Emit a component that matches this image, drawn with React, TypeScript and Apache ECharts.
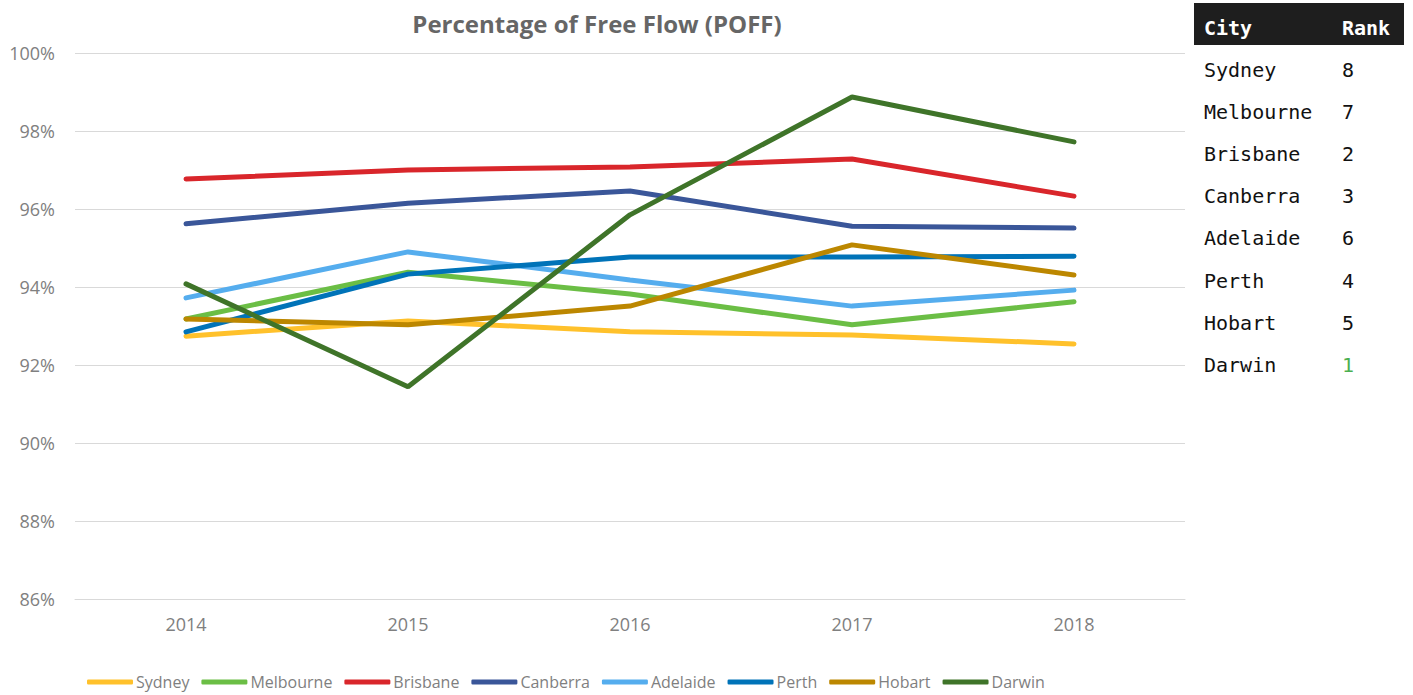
import React, { useEffect, useRef } from "react";
import * as echarts from "echarts";

const years = ["2014", "2015", "2016", "2017", "2018"];
const sydney = [92.74, 93.13, 92.85, 92.77, 92.54];
const melbourne = [93.18, 94.38, 93.82, 93.03, 93.62];
const brisbane = [96.77, 97.0, 97.08, 97.28, 96.33];
const canberra = [95.62, 96.15, 96.46, 95.56, 95.51];
const adelaide = [93.72, 94.9, 94.18, 93.51, 93.92];
const perth = [92.85, 94.33, 94.77, 94.77, 94.79];
const hobart = [93.18, 93.03, 93.51, 95.08, 94.31];
const darwin = [94.08, 91.44, 95.85, 98.87, 97.72];

const seriesNames = ["Sydney", "Melbourne", "Brisbane", "Canberra", "Adelaide", "Perth", "Hobart", "Darwin"];
const seriesValues = [sydney, melbourne, brisbane, canberra, adelaide, perth, hobart, darwin];
const seriesColors = ["#FFC12B", "#6BBE45", "#D9262B", "#3A5699", "#55ADEE", "#0073B8", "#BC8700", "#3F7429"];

const tableCities = ["Sydney", "Melbourne", "Brisbane", "Canberra", "Adelaide", "Perth", "Hobart", "Darwin"];
const tableRanks = ["8", "7", "2", "3", "6", "4", "5", "1"];

export default function App() {
  const ref = useRef<HTMLDivElement>(null);
  useEffect(() => {
    if (!ref.current) return;
    const chart = echarts.init(ref.current, null, { renderer: "svg" });
    const mono = "'DejaVu Sans Mono', 'Liberation Mono', monospace";
    const sans = "'Open Sans', 'Noto Sans', sans-serif";
    const graphic: any[] = [
      { type: "rect", shape: { x: 1194, y: 3, width: 210, height: 42 }, style: { fill: "#1e1e1e" } },
      { type: "text", x: 1204, y: 28, style: { text: "City", fill: "#fff", font: `bold 20px ${mono}`, textVerticalAlign: "middle" } },
      { type: "text", x: 1342, y: 28, style: { text: "Rank", fill: "#fff", font: `bold 20px ${mono}`, textVerticalAlign: "middle" } },
    ];
    tableCities.forEach((c, i) => {
      const y = 70 + i * 42.1;
      graphic.push({ type: "text", x: 1204, y, style: { text: c, fill: "#111", font: `20px ${mono}`, textVerticalAlign: "middle" } });
      graphic.push({
        type: "text",
        x: 1342,
        y,
        style: { text: tableRanks[i], fill: tableRanks[i] === "1" ? "#4CAF50" : "#111", font: `20px ${mono}`, textVerticalAlign: "middle" },
      });
    });
    chart.setOption({
      animation: false,
      textStyle: { fontFamily: sans },
      title: {
        text: "Percentage of Free Flow (POFF)",
        left: 592,
        textAlign: "center",
        top: 6,
        textStyle: { fontSize: 24, fontWeight: "bold", color: "#666", fontFamily: sans },
      },
      grid: { left: 75, right: 228, top: 53, bottom: 96 },
      legend: {
        bottom: 0,
        left: 82,
        icon: "roundRect",
        itemWidth: 46,
        itemHeight: 5,
        itemGap: 12,
        textStyle: { color: "#7f7f7f", fontSize: 16, padding: [0, 0, 0, -2] },
        data: seriesNames,
      },
      xAxis: {
        type: "category",
        data: years,
        boundaryGap: true,
        axisLine: { show: true, lineStyle: { color: "#d9d9d9" } },
        axisTick: { show: false },
        axisLabel: { color: "#808080", fontSize: 18, margin: 16 },
      },
      yAxis: {
        type: "value",
        min: 86,
        max: 100,
        interval: 2,
        axisLine: { show: false },
        axisTick: { show: false },
        axisLabel: { color: "#808080", fontSize: 18, margin: 20, formatter: (v: number) => `${v}%` },
        splitLine: { lineStyle: { color: "#d9d9d9" } },
      },
      series: seriesNames.map((n, i) => ({
        name: n,
        type: "line",
        data: seriesValues[i],
        showSymbol: false,
        symbol: "none",
        lineStyle: { width: 5, color: seriesColors[i], cap: "round" },
        itemStyle: { color: seriesColors[i] },
      })),
      graphic,
    });
    return () => chart.dispose();
  }, []);
  return <div ref={ref} style={{ position: "fixed", left: 0, top: 0, width: 1413, height: 695, background: "#fff" }} />;
}
